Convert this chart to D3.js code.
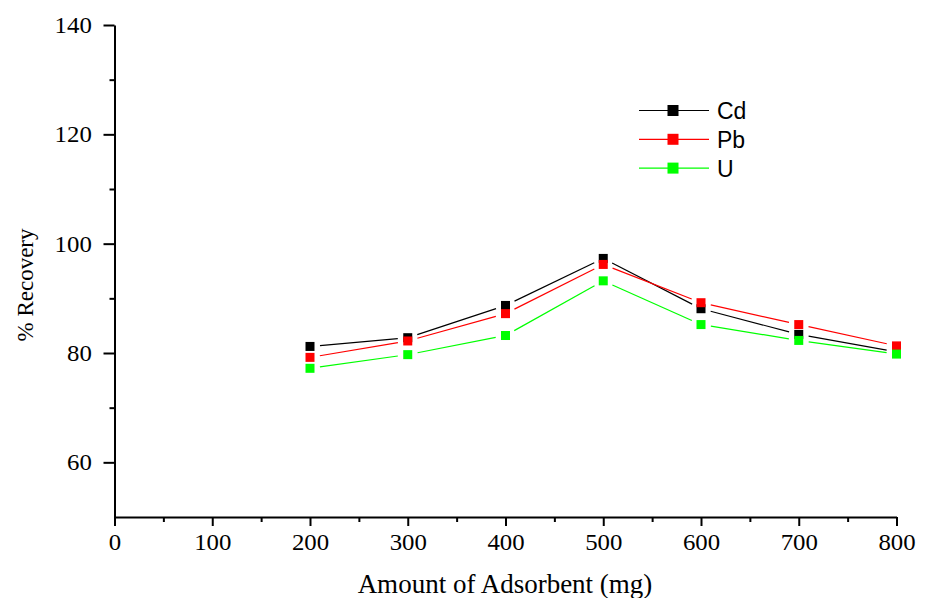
<!DOCTYPE html>
<html>
<head>
<meta charset="utf-8">
<script src="https://cdn.jsdelivr.net/npm/d3@7.9.0/dist/d3.min.js"></script>
<style>
  body { margin: 0; background: #fff; }
  svg { display: block; }
  .axis path, .axis line { stroke: #000; stroke-width: 2; }
  .axis text { font-family: "Liberation Serif", "Times New Roman", serif; font-size: 23px; fill: #000; }
  .legend text { font-family: "Liberation Sans", Arial, sans-serif; font-size: 23px; }
</style>
</head>
<body>
<svg id="chart" width="933" height="598"></svg>
<script>
const amounts = [200, 300, 400, 500, 600, 700, 800];
const cd = [81.2, 82.8, 88.7, 97.3, 88.1, 83.4, 80.2];
const pb = [79.2, 82.2, 87.2, 96.2, 89.2, 85.2, 81.3];
const u = [77.2, 79.7, 83.2, 93.2, 85.2, 82.3, 79.8];
const seriesNames = ['Cd', 'Pb', 'U'];
const seriesColors = ['#000000', '#ff0000', '#00ff00'];
const xTicks = [0, 100, 200, 300, 400, 500, 600, 700, 800];
const yTicks = [60, 80, 100, 120, 140];

const series = [cd, pb, u].map((vals, i) => ({
  name: seriesNames[i],
  color: seriesColors[i],
  points: vals.map((v, j) => ({ x: amounts[j], y: v }))
}));

const svg = d3.select('#chart');
const x = d3.scaleLinear().domain([0, 800]).range([114.5, 896.5]);
const y = d3.scaleLinear().domain([50, 140]).range([517, 25]);

// minor ticks
svg.append('g')
  .attr('class', 'axis')
  .attr('transform', `translate(0,${y(50)})`)
  .call(d3.axisBottom(x).tickValues(d3.range(50, 800, 100)).tickSize(5).tickFormat(''))
  .call(g => g.select('.domain').remove());
svg.append('g')
  .attr('class', 'axis')
  .attr('transform', `translate(${x(0)},0)`)
  .call(d3.axisLeft(y).tickValues([70, 90, 110, 130]).tickSize(5).tickFormat(''))
  .call(g => g.select('.domain').remove());

// major axes
const xAxis = svg.append('g')
  .attr('class', 'axis')
  .attr('transform', `translate(0,${y(50)})`)
  .call(d3.axisBottom(x).tickValues(xTicks).tickSize(9).tickSizeOuter(0).tickPadding(8));
xAxis.selectAll('text').attr('transform', 'scale(1.08,1)')
  .attr('x', function(d) { return x(d) / 1.08 - x(d); });
xAxis.selectAll('.tick').each(function(d) {
  d3.select(this).select('text').attr('x', 0)
    .attr('transform', 'scale(1.08,1)');
});

const yAxis = svg.append('g')
  .attr('class', 'axis')
  .attr('transform', `translate(${x(0)},0)`)
  .call(d3.axisLeft(y).tickValues(yTicks).tickSize(11).tickSizeOuter(0).tickPadding(10));
yAxis.selectAll('text').attr('transform', 'scale(1.08,1)');

// axis titles
svg.append('text')
  .attr('x', 505).attr('y', 593)
  .attr('text-anchor', 'middle')
  .attr('font-family', '"Liberation Serif", "Times New Roman", serif')
  .attr('font-size', 27)
  .text('Amount of Adsorbent (mg)');

svg.append('text')
  .attr('transform', 'translate(33,285) rotate(-90)')
  .attr('text-anchor', 'middle')
  .attr('font-family', '"Liberation Serif", "Times New Roman", serif')
  .attr('font-size', 23)
  .text('% Recovery');

// lines with gaps around markers
const gap = 10;
const ms = 9;
series.forEach(s => {
  const g = svg.append('g');
  d3.pairs(s.points).forEach(([a, b]) => {
    const x1 = x(a.x), y1 = y(a.y), x2 = x(b.x), y2 = y(b.y);
    const len = Math.hypot(x2 - x1, y2 - y1);
    const dx = (x2 - x1) / len, dy = (y2 - y1) / len;
    g.append('line')
      .attr('x1', x1 + dx * gap).attr('y1', y1 + dy * gap)
      .attr('x2', x2 - dx * gap).attr('y2', y2 - dy * gap)
      .attr('stroke', s.color).attr('stroke-width', 1.2);
  });
  g.selectAll('rect').data(s.points).join('rect')
    .attr('x', d => x(d.x) - ms / 2)
    .attr('y', d => y(d.y) - ms / 2)
    .attr('width', ms).attr('height', ms)
    .attr('fill', s.color);
});

// legend
const legend = svg.append('g').attr('class', 'legend');
series.forEach((s, i) => {
  const ly = 110.5 + i * 28.8;
  const row = legend.append('g').attr('transform', `translate(0,${ly})`);
  row.append('line').attr('x1', 639).attr('x2', 709).attr('y1', 0).attr('y2', 0)
    .attr('stroke', s.color).attr('stroke-width', 1.2);
  row.append('rect').attr('x', 673 - 5.5).attr('y', -5.5).attr('width', 11).attr('height', 11)
    .attr('fill', s.color);
  row.append('text').attr('x', 717).attr('y', 8.5).text(s.name);
});
</script>
</body>
</html>
